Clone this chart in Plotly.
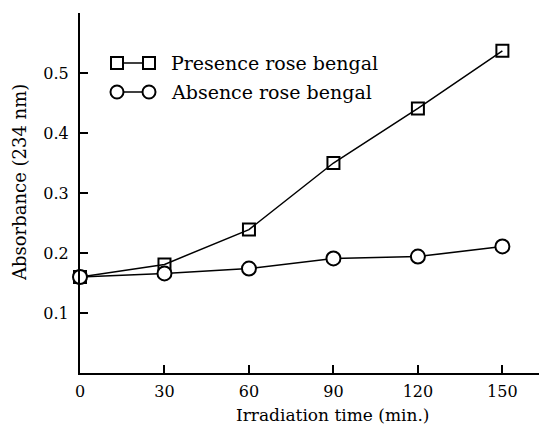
import plotly.graph_objects as go

time_min = [0, 30, 60, 90, 120, 150]
presence = [0.160, 0.181, 0.239, 0.350, 0.441, 0.537]
absence = [0.160, 0.166, 0.174, 0.191, 0.194, 0.211]
legend_labels = ["Presence rose bengal", "Absence rose bengal"]
x_ticks = [0, 30, 60, 90, 120, 150]
y_ticks = [0.1, 0.2, 0.3, 0.4, 0.5]

FONT = "DejaVu Serif"
line_style = dict(color="black", width=1.5)

fig = go.Figure()
fig.add_trace(go.Scatter(
    x=time_min, y=presence, mode="lines+markers", line=line_style,
    marker=dict(symbol="square-open", size=12, color="black", line=dict(width=2)),
    cliponaxis=False, showlegend=False))
fig.add_trace(go.Scatter(
    x=time_min, y=absence, mode="lines+markers", line=line_style,
    marker=dict(symbol="circle", size=14, color="white", line=dict(width=2, color="black")),
    cliponaxis=False, showlegend=False))

# manual legend on an overlay axis measured in plot-area pixels
leg_x = [37, 69]
for i, (sym, lab) in enumerate(zip(["square", "circle"], legend_labels)):
    yy = 310 - i * 29
    fig.add_trace(go.Scatter(
        x=leg_x, y=[yy, yy], mode="lines+markers", xaxis="x2", yaxis="y2",
        line=line_style,
        marker=dict(symbol=sym, size=12 if sym == "square" else 13, color="white",
                    line=dict(width=2, color="black")),
        cliponaxis=False, showlegend=False))
    fig.add_annotation(x=89, y=yy, xref="x2", yref="y2", text=lab, showarrow=False,
                       xanchor="left", yanchor="middle",
                       font=dict(family=FONT, size=19, color="black"))

# axis titles placed in paper coords (plot area: x 80..539 px, y 13..373 px)
fig.add_annotation(text="Absorbance (234 nm)", x=(19 - 80) / 459, y=(373 - 183) / 360,
                   xref="paper", yref="paper", showarrow=False, textangle=-90,
                   xanchor="center", yanchor="middle", font=dict(family=FONT, size=18))
fig.add_annotation(text="Irradiation time (min.)", x=(332 - 80) / 459, y=(373 - 403) / 360,
                   xref="paper", yref="paper", showarrow=False,
                   xanchor="center", yanchor="top", font=dict(family=FONT, size=17))

fig.update_layout(
    width=539, height=427,
    margin=dict(l=80, r=0, t=13, b=54),
    plot_bgcolor="white", paper_bgcolor="white",
    font=dict(family=FONT, size=16, color="black"),
    xaxis=dict(range=[0, 163], tickvals=x_ticks, ticks="inside", ticklen=8, tickwidth=2,
               tickcolor="black", showline=True, linecolor="black", linewidth=2,
               showgrid=False, zeroline=False, ticklabelstandoff=3),
    yaxis=dict(range=[0, 0.6], tickvals=y_ticks, ticks="inside", ticklen=8, tickwidth=2,
               tickcolor="black", showline=True, linecolor="black", linewidth=2,
               showgrid=False, zeroline=False, ticklabelstandoff=6),
    xaxis2=dict(range=[0, 459], overlaying="x", visible=False, fixedrange=True),
    yaxis2=dict(range=[0, 360], overlaying="y", visible=False, fixedrange=True),
)
fig.write_html("out.html")
